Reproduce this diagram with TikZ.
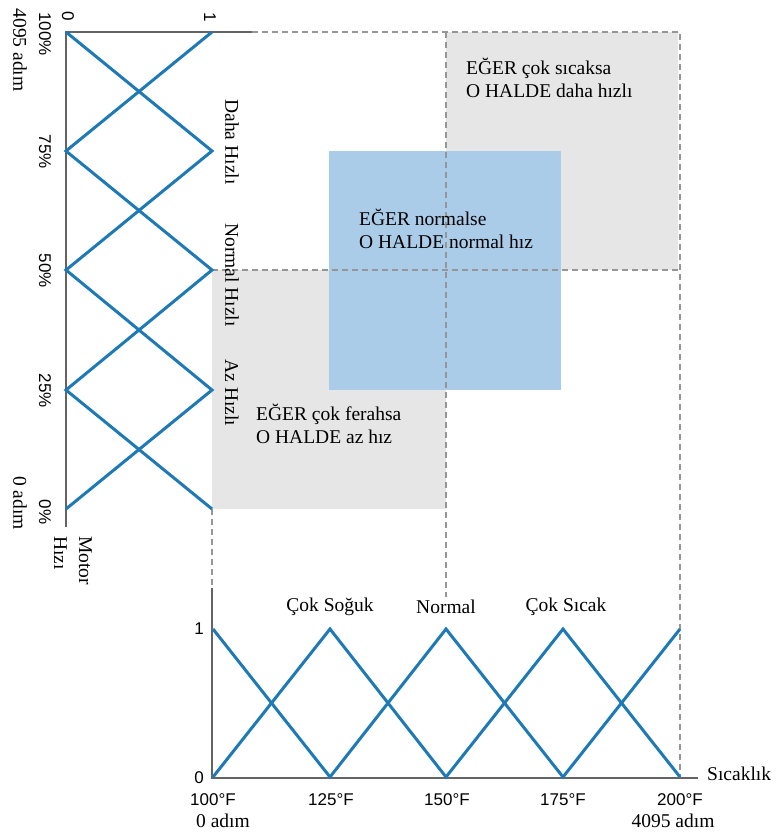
\documentclass[tikz,border=0pt]{standalone}
\usepackage{fontspec}
\setmainfont{Liberation Serif}
\setsansfont{Liberation Sans}
\definecolor{mfblue}{RGB}{30,122,182}
\definecolor{zonegray}{RGB}{230,230,230}
\definecolor{zoneblue}{RGB}{170,204,232}
\definecolor{axisgray}{RGB}{100,100,100}
\definecolor{guidegray}{RGB}{150,150,150}
\begin{document}
\begin{tikzpicture}[x=1pt,y=-1pt,
  member/.style={draw=mfblue,line width=3pt,line join=miter},
  axisline/.style={draw=axisgray,line width=2pt},
  guide/.style={draw=guidegray,line width=1.5pt,dash pattern=on 6pt off 4pt},
  serif/.style={font=\fontsize{19.5}{23}\selectfont,inner sep=0pt},
  sans/.style={font=\sffamily\fontsize{17}{20}\selectfont,inner sep=0pt},
  rule/.style={serif,align=left,anchor=west},
  vert/.style={rotate=-90}]
\useasboundingbox (0,0) rectangle (776,833);
\fill[white] (0,0) rectangle (776,833);

% grid of the rule base
\coordinate (sTop)  at (66,32);
\coordinate (sOne)  at (212,32);
\coordinate (sEnd)  at (252,32);
\coordinate (s75)   at (66,151);
\coordinate (s75r)  at (212,151);
\coordinate (s50)   at (66,270);
\coordinate (s50r)  at (212,270);
\coordinate (s25)   at (66,390);
\coordinate (s25r)  at (212,390);
\coordinate (s0)    at (66,509);
\coordinate (s0r)   at (212,509);
\coordinate (sFoot) at (66,527);
\coordinate (gTR)   at (680,32);
\coordinate (gMidT) at (446,32);
\coordinate (gMidB) at (446,597);
\coordinate (gR50)  at (680,270);
\coordinate (gRB)   at (680,777);
\coordinate (tAxT)  at (212,588);
\coordinate (tOrig) at (212,778);
\coordinate (tAxR)  at (698,778);

% rule zones
\fill[zonegray] (446,32) rectangle (678,270);
\fill[zonegray] (212,270) rectangle (446,509);
\fill[zoneblue] (329,151) rectangle (561,390);

% dashed guides
\draw[guide] (sEnd) -- (gTR) -- (gRB);
\draw[guide] (s50r) -- (gR50);
\draw[guide] (gMidT) -- (gMidB);
\draw[guide] (s0r) -- (tAxT);

% axes
\draw[axisline] (sFoot) -- (sTop) -- (sEnd);
\draw[axisline] (tAxT) -- (tOrig) -- (tAxR);

% motor speed membership functions
\draw[member] (sTop) -- (s75r) -- (s50) -- (s25r) -- (s0);
\draw[member] (sOne) -- (s75) -- (s50r) -- (s25) -- (s0r);

% temperature membership functions
\coordinate (t100h) at (213,629); \coordinate (t100l) at (213,777);
\coordinate (t125h) at (330,629); \coordinate (t125l) at (330,777);
\coordinate (t150h) at (446,629); \coordinate (t150l) at (446,777);
\coordinate (t175h) at (563,629); \coordinate (t175l) at (563,777);
\coordinate (t200h) at (680,629); \coordinate (t200l) at (680,777);
\draw[member] (t100h) -- (t125l) -- (t150h) -- (t175l) -- (t200h);
\draw[member] (t100l) -- (t125h) -- (t150l) -- (t175h) -- (t200l);

% speed axis labels
\node[sans,vert] (lz)   at (68,16)  {0};
\node[sans,vert] (lo)   at (210,17) {1};
\node[sans,vert] (p100) at (45,34)  {100\%};
\node[sans,vert] (p75)  at (45,152) {75\%};
\node[sans,vert] (p50)  at (45,271) {50\%};
\node[sans,vert] (p25)  at (45,391) {25\%};
\node[sans,vert] (p0)   at (45,512) {0\%};
\node[serif,vert] (stTop) at (20,50)  {4095 adım};
\node[serif,vert] (stBot) at (20,503) {0 adım};
\node[serif,vert,align=left,anchor=north west,
      font=\fontsize{19.5}{25}\selectfont] (motor) at (92,536) {Motor\\Hızı};
\node[serif,vert] (fast) at (232,142) {Daha Hızlı};
\node[serif,vert] (norm) at (232,275) {Normal Hızlı};
\node[serif,vert] (slow) at (232,393) {Az Hızlı};

% rules
\node[rule] (r1) at (466,78)  {EĞER çok sıcaksa\\O HALDE daha hızlı};
\node[rule] (r2) at (359,229) {EĞER normalse\\O HALDE normal hız};
\node[rule] (r3) at (256,424) {EĞER çok ferahsa\\O HALDE az hız};

% temperature axis labels
\node[sans] (one)  at (199,629) {1};
\node[sans] (zero) at (199,778) {0};
\node[serif] (cold) at (330,607) {Çok Soğuk};
\node[serif] (nrm)  at (446,607) {Normal};
\node[serif] (hot)  at (566,607) {Çok Sıcak};
\node[serif,anchor=west] (temp) at (707,774) {Sıcaklık};
\node[sans] (f100) at (213,800) {100°F};
\node[sans] (f125) at (331,800) {125°F};
\node[sans] (f150) at (447,800) {150°F};
\node[sans] (f175) at (563,800) {175°F};
\node[sans] (f200) at (680,800) {200°F};
\node[serif] (a0)  at (223,821) {0 adım};
\node[serif] (a4k) at (673,821) {4095 adım};
\end{tikzpicture}
\end{document}
